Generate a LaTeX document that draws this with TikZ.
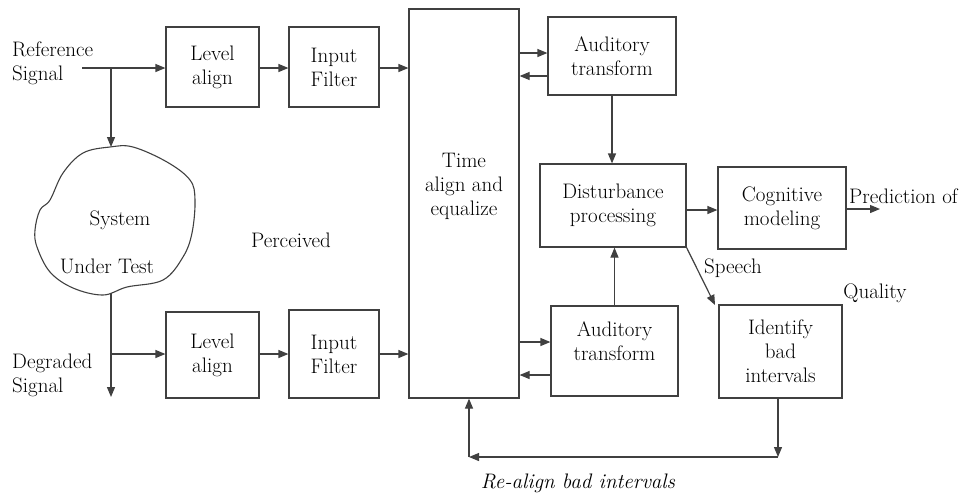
\documentclass[tikz,border=0pt]{standalone}
\usepackage{tikz}
\usetikzlibrary{arrows.meta, positioning}

\begin{document}
\begin{tikzpicture}[x=1pt, y=-1pt,
    font=\fontsize{21}{24}\selectfont,
    block/.style={draw=black!75, line width=1.2pt, rectangle, align=center, inner sep=0pt, text=black},
    lbl/.style={align=center, inner sep=0pt, text=black},
    arr/.style={draw=black!75, line width=1.2pt, -{Triangle[length=10pt, width=8pt]}}]
    \useasboundingbox (0,0) rectangle (968,499);

    % Draw blocks
    \node[block, minimum width=93, minimum height=80] (la1) at (212.5,67) {Level\\align};
    \node[block, minimum width=90, minimum height=80] (if1) at (334,67) {Input\\Filter};
    \node[block, minimum width=93, minimum height=86] (la2) at (212.5,355) {Level\\align};
    \node[block, minimum width=90, minimum height=88] (if2) at (334,354) {Input\\Filter};
    \node[block, minimum width=110, minimum height=389] (time) at (464,203.5) {};
    \node[lbl] (timet) at (464,186) {Time\\align and\\equalize};
    \node[block, minimum width=128, minimum height=78] (aud1) at (612,56) {Auditory\\transform};
    \node[block, minimum width=146, minimum height=83] (dist) at (613,205.5) {Disturbance\\processing};
    \node[block, minimum width=128, minimum height=82] (cog) at (782,208) {Cognitive\\modeling};
    \node[block, minimum width=127, minimum height=90] (aud2) at (614.5,351) {};
    \node[lbl] (aud2t) at (614.5,341) {Auditory\\transform};
    \node[block, minimum width=123, minimum height=93] (ident) at (780.5,351.5) {Identify\\bad\\intervals};

    % Draw system under test
    \draw[black!75, line width=1.1pt] plot[smooth cycle, tension=0.6] coordinates {
        (110,147) (133,147) (167,162) (190,180) (195,200) (192,233)
        (183,257) (163,280) (127,287) (103,295) (73,288) (50,272)
        (37,247) (35,230) (40,210) (50,200) (63,173) (83,153)};
    \coordinate (sutTop) at (111,147);
    \coordinate (sutBot) at (111,293);
    \node[lbl] (sys) at (120,220) {System};
    \node[lbl] (undr) at (107,266) {Under Test};

    % Add labels
    \node[lbl, anchor=west, align=left] (ref) at (12,63) {Reference\\Signal};
    \node[lbl, anchor=west, align=left] (deg) at (12,375) {Degraded\\Signal};
    \node[lbl] (perc) at (291,240) {Perceived};
    \node[lbl] (speech) at (733,268) {Speech};
    \node[lbl] (qual) at (875,293) {Quality};
    \node[lbl, anchor=west] (pred) at (849,196) {Prediction of};
    \node[lbl, font=\fontsize{21}{24}\selectfont\itshape] (realign) at (578,483) {Re-align bad intervals};

    % Reference path
    \coordinate (refIn) at (82,68);
    \coordinate (refBr) at (111,68);
    \draw[arr] (refIn) -- (la1.west |- refIn);
    \draw[arr] (refBr) -- (sutTop);
    \draw[arr] (la1.east |- refIn) -- (if1.west |- refIn);
    \draw[arr] (if1.east |- refIn) -- (time.west |- refIn);

    % Degraded path
    \coordinate (degOut) at (111,397);
    \coordinate (degBr) at (111,354);
    \draw[arr] (sutBot) -- (degOut);
    \draw[arr] (degBr) -- (la2.west |- degBr);
    \draw[arr] (la2.east |- degBr) -- (if2.west |- degBr);
    \draw[arr] (if2.east |- degBr) -- (time.west |- degBr);

    % Auditory transforms
    \draw[arr] (time.east |- 0,53) -- (aud1.west |- 0,53);
    \draw[arr] (aud1.west |- 0,76) -- (time.east |- 0,76);
    \draw[arr] (time.east |- 0,342) -- (aud2.west |- 0,342);
    \draw[arr] (aud2.west |- 0,375) -- (time.east |- 0,375);
    \draw[arr] (aud1.south) -- (aud1.south |- dist.north);
    \draw[arr] (aud2.north) -- (aud2.north |- dist.south);

    % Outputs
    \coordinate (predOut) at (880,209);
    \draw[arr] (dist.east |- 0,210) -- (cog.west |- 0,210);
    \draw[arr] (cog.east |- predOut) -- (predOut);
    \draw[arr] (dist.south east) -- (715,305);

    % Feedback loop
    \coordinate (fbR) at (778,457);
    \coordinate (fbL) at (469,457);
    \draw[arr] (ident.south -| fbR) -- (fbR);
    \draw[arr] (fbR) -- (fbL);
    \draw[arr] (fbL) -- (fbL |- time.south);
\end{tikzpicture}
\end{document}
